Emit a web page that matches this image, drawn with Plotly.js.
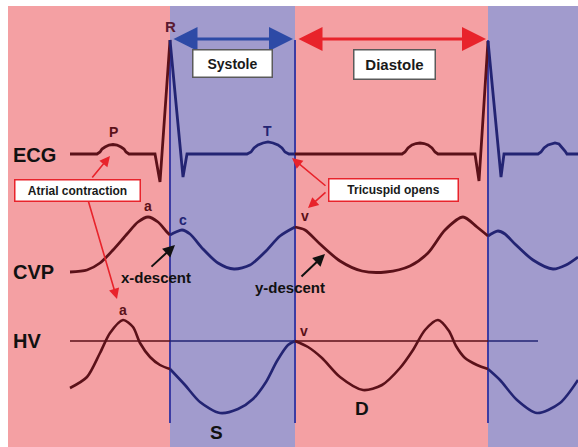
<!DOCTYPE html>
<html>
<head>
<meta charset="utf-8">
<script src="https://cdn.plot.ly/plotly-3.0.1.min.js"></script>
<style>html,body{margin:0;padding:0;background:#fff}#chart{width:578px;height:447px}</style>
</head>
<body>
<div id="chart"></div>
<script>
// Phase boundaries (x) and phase of each band
const phaseBounds = [8, 170, 295, 488, 578];
const phaseNames = ['Diastole', 'Systole', 'Diastole', 'Systole'];

// ECG trace (x, y in drawing units; y grows downward)
const ecgX = [70, 97, 100, 102, 105, 109, 113, 117, 121, 124, 126, 129, 155, 160, 170,
              183, 187, 247, 251, 254, 258, 263, 268, 273, 278, 282, 285, 289, 295,
              402, 405, 408, 412, 416, 420, 424, 428, 432, 435, 438, 475, 479, 488,
              501, 504, 538, 541, 544, 548, 552, 555, 559, 562, 565, 567, 578];
const ecgY = [154, 154, 152, 149, 147, 145, 144.5, 145, 147, 149, 152, 154, 154, 182, 40,
              177, 154, 154, 152, 148, 145, 143, 142, 143, 145, 148, 152, 154, 154,
              154, 152, 148, 145, 143.5, 143, 143.5, 145, 148, 152, 154, 154, 181, 41,
              177, 154, 154, 152, 148, 145, 143.5, 143, 144, 147, 151, 154, 154];

// CVP trace
const cvpX = [70, 87, 100, 113, 127, 138, 148, 158, 166, 170,
              176, 182, 190, 203, 218, 234, 250, 265, 280, 295,
              305, 320, 340, 362, 386, 410, 428, 445, 463, 477, 488,
              493, 498, 505, 515, 533, 553, 566, 578];
const cvpY = [272, 270, 263, 250, 234, 222, 217, 222, 231, 235,
              232, 230, 234, 249, 263, 269, 265, 252, 236, 227,
              230, 244, 261, 271, 272, 266, 253, 230, 217, 227, 236,
              233, 231, 234, 244, 260, 269, 265, 257];

// Hepatic vein (HV) Doppler trace
const hvX = [70, 87, 100, 110, 123, 133, 140, 150, 160, 170,
             185, 200, 220, 238, 253, 266, 277, 288, 295,
             308, 322, 340, 363, 382, 400, 413, 425, 438, 449, 456, 465, 477, 488,
             500, 517, 537, 560, 578];
const hvY = [388, 377, 353, 333, 320, 327, 343, 357, 365, 369,
             385, 402, 413, 409, 399, 382, 361, 345, 341,
             347, 358, 377, 390, 385, 368, 350, 330, 320, 331, 346, 358, 365, 369,
             380, 400, 413, 403, 380];

// HV zero baseline
const hvBaseX = [70, 170, 295, 488, 538];
const hvBaseY = [341, 341, 341, 341, 341];

const colorFor = { Diastole: '#5b1119', Systole: '#232473' };
const bandFill = { Diastole: '#f4a0a3', Systole: '#a19bcd' };

function splitByPhase(xs, ys) {
  const segs = [];
  for (let i = 0; i < phaseNames.length; i++) {
    const lo = phaseBounds[i], hi = phaseBounds[i + 1];
    const sx = [], sy = [];
    xs.forEach((x, k) => { if (x >= lo && x <= hi) { sx.push(x); sy.push(ys[k]); } });
    if (sx.length > 1) segs.push({ x: sx, y: sy, phase: phaseNames[i] });
  }
  return segs;
}

const traces = [];
function addSeries(xs, ys, width, shape) {
  splitByPhase(xs, ys).forEach(s => traces.push({
    type: 'scatter', mode: 'lines', x: s.x, y: s.y, hoverinfo: 'skip',
    line: { color: colorFor[s.phase], width: width, shape: shape, smoothing: 0.8 }
  }));
}
addSeries(hvBaseX, hvBaseY, 1.6, 'linear');
addSeries(ecgX, ecgY, 2.8, 'linear');
addSeries(cvpX, cvpY, 2.8, 'spline');
addSeries(hvX, hvY, 2.6, 'spline');

const shapes = [];
shapes.push({ type: 'rect', xref: 'x', yref: 'y', x0: 0, x1: 578, y0: 0, y1: 447,
  fillcolor: '#ffffff', line: { width: 0 }, layer: 'below' });
for (let i = 0; i < phaseNames.length; i++) {
  shapes.push({ type: 'rect', xref: 'x', yref: 'y', x0: phaseBounds[i], x1: phaseBounds[i + 1],
    y0: 6, y1: 447, fillcolor: bandFill[phaseNames[i]], line: { width: 0 }, layer: 'below' });
}
[1, 2, 3].forEach(i => shapes.push({ type: 'line', xref: 'x', yref: 'y',
  x0: phaseBounds[i], x1: phaseBounds[i], y0: 40, y1: 423,
  line: { color: '#3d3ca3', width: 2 }, layer: 'below' }));

const FONT = 'Liberation Sans, Arial, sans-serif';
function label(text, x, y, size, color, anchor) {
  return { text: text, x: x, y: y, xref: 'x', yref: 'y', showarrow: false,
    xanchor: anchor || 'center', yanchor: 'middle',
    font: { family: FONT, size: size, color: color, weight: 'bold' } };
}
function box(text, x, y, w, h, size, border) {
  return { text: text, x: x, y: y, xref: 'x', yref: 'y', showarrow: false,
    xanchor: 'center', yanchor: 'middle', width: w, height: h, borderpad: 0,
    bgcolor: '#ffffff', bordercolor: border, borderwidth: 1.5,
    font: { family: FONT, size: size, color: '#1a1a1a', weight: 'bold' } };
}
function arrow(x, y, ax, ay, color, width, size, both) {
  const a = { text: '', x: x, y: y, ax: ax, ay: ay, xref: 'x', yref: 'y', axref: 'x', ayref: 'y',
    showarrow: true, arrowcolor: color, arrowwidth: width, arrowhead: 2, arrowsize: size,
    standoff: 0, startstandoff: 0 };
  if (both) { a.arrowside = 'end+start'; a.startarrowhead = 2; a.startarrowsize = size; }
  return a;
}

const maroon = colorFor.Diastole, navy = colorFor.Systole;
const annotations = [
  label('ECG', 11, 155, 20, '#111111', 'left'),
  label('CVP', 11, 272, 20, '#111111', 'left'),
  label('HV', 11, 341, 20, '#111111', 'left'),
  label('R', 170, 26, 15, '#5a1a30'),
  label('P', 113, 132, 14, maroon),
  label('T', 267, 131, 14, navy),
  label('a', 148, 206, 14, maroon),
  label('c', 183, 220, 14, navy),
  label('v', 305, 216, 14, maroon),
  label('a', 123, 310, 14, maroon),
  label('v', 304, 331, 14, maroon),
  label('S', 216, 432, 19, '#111111'),
  label('D', 362, 408, 19, '#111111'),
  label('x-descent', 156, 277, 15, '#111111'),
  label('y-descent', 290, 287, 15, '#111111'),
  arrow(293, 39, 172, 39, '#2d4aa6', 3, 1.6, true),
  arrow(486, 39, 297, 39, '#e8232b', 3, 1.6, true),
  arrow(110, 156, 91, 179, '#e8232b', 1.6, 1.3),
  arrow(117, 299, 88, 200, '#e8232b', 1.6, 1.3),
  arrow(292, 158, 327, 187, '#e8232b', 1.6, 1.3),
  arrow(308, 208, 327, 191, '#e8232b', 1.6, 1.3),
  arrow(175, 245, 150, 268, '#111111', 2, 1.2),
  arrow(325, 254, 300, 278, '#111111', 2, 1.2),
  box('Systole', 232, 63, 78, 26, 14, '#5a5a5a'),
  box('Diastole', 394, 64, 80, 28, 15, '#5a5a5a'),
  box('Atrial contraction', 77, 190, 124, 20, 12, '#e8232b'),
  box('Tricuspid opens', 393, 190, 128, 21, 12, '#e8232b')
];

const layout = {
  width: 578, height: 447, margin: { l: 0, r: 0, t: 0, b: 0, pad: 0 },
  paper_bgcolor: '#ffffff', plot_bgcolor: '#ffffff', showlegend: false,
  xaxis: { range: [0, 578], visible: false, fixedrange: true },
  yaxis: { range: [447, 0], visible: false, fixedrange: true },
  shapes: shapes, annotations: annotations
};
Plotly.newPlot('chart', traces, layout, { displayModeBar: false, staticPlot: true });
</script>
</body>
</html>
